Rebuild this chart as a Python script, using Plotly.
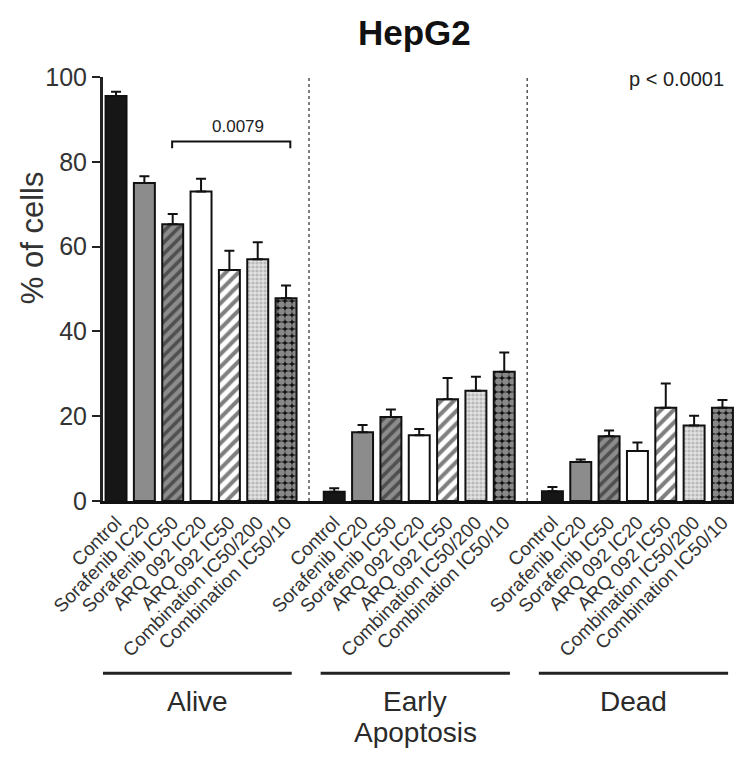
import plotly.graph_objects as go

groups = ["Alive", "Early", "Dead"]
treatments = ["Control", "Sorafenib IC20", "Sorafenib IC50", "ARQ 092 IC20",
              "ARQ 092 IC50", "Combination IC50/200", "Combination IC50/10"]

# mean % of cells (one list per group, same order as treatments)
alive = [95.5, 75.0, 65.3, 73.0, 54.5, 57.0, 47.8]
alive_err = [1.0, 1.6, 2.4, 3.0, 4.5, 4.0, 3.0]
early = [2.2, 16.2, 19.8, 15.5, 24.0, 26.0, 30.5]
early_err = [0.8, 1.7, 1.8, 1.5, 5.0, 3.3, 4.5]
dead = [2.3, 9.2, 15.3, 11.8, 22.0, 17.8, 22.0]
dead_err = [1.0, 0.6, 1.3, 2.0, 5.7, 2.3, 1.8]

bracket_p = "0.0079"
overall_p = "p < 0.0001"

# fill colour, hatch shape, hatch colour, hatch size, solidity
styles = [
    ("#161616", "", "#161616", 8, 0.3),
    ("#8c8c8c", "", "#8c8c8c", 8, 0.3),
    ("#8c8c8c", "/", "#111111", 8, 0.45),
    ("#ffffff", "", "#ffffff", 8, 0.3),
    ("#ffffff", "/", "#000000", 9, 0.45),
    ("#e2e2e2", ".", "#8f8f8f", 4, 0.5),
    ("#111111", ".", "#ffffff", 7, 0.7),
]

GROUP_STEP = 7.7  # spacing between group starts, in bar units
values = [alive, early, dead]
errors = [alive_err, early_err, dead_err]

fig = go.Figure()
for i, name in enumerate(treatments):
    color, shape, fg, size, solid = styles[i]
    xs = [g * GROUP_STEP + i for g in range(len(groups))]
    ys = [values[g][i] for g in range(len(groups))]
    es = [errors[g][i] for g in range(len(groups))]
    fig.add_trace(go.Bar(
        x=xs, y=ys, name=name, width=0.74,
        marker=dict(color=color, line=dict(color="#111111", width=2),
                    pattern=dict(shape=shape, fgcolor=fg, size=size,
                                 solidity=solid, fillmode="overlay")),
        error_y=dict(type="data", array=es, arrayminus=[0] * len(es),
                     symmetric=False, color="#111111", thickness=2, width=5),
    ))

tickvals = [g * GROUP_STEP + i for g in range(len(groups)) for i in range(len(treatments))]
ticktext = treatments * len(groups)

fig.update_xaxes(range=[-0.46, 22.09], tickvals=tickvals, ticktext=ticktext,
                 tickangle=-45, tickfont=dict(family="Arial, Liberation Sans", size=19, color="#333333"),
                 showline=True, linecolor="#111111", linewidth=3, ticks="",
                 showgrid=False, zeroline=False)
fig.update_yaxes(range=[0, 100], dtick=20, ticks="outside", ticklen=8, tickwidth=2,
                 tickcolor="#222222", showline=True, linecolor="#222222", linewidth=3,
                 tickfont=dict(family="Arial, Liberation Sans", size=25, color="#333333"),
                 showgrid=False, zeroline=False)

shapes = []
# dotted separators between groups
for sx in [6.81, 6.81 + GROUP_STEP]:
    shapes.append(dict(type="line", xref="x", yref="y", x0=sx, x1=sx, y0=0, y1=100,
                       line=dict(color="#555555", width=1.5, dash="dot")))
# significance bracket
shapes.append(dict(type="path", xref="x", yref="y",
                   path="M 1.98 83.2 L 1.98 84.8 L 6.15 84.8 L 6.15 83.2",
                   line=dict(color="#111111", width=2)))
# group underlines
for g in range(len(groups)):
    c = g * GROUP_STEP + 2.86
    shapes.append(dict(type="line", xref="x", yref="paper", x0=c - 3.34, x1=c + 3.34,
                       y0=-0.406, y1=-0.406, line=dict(color="#222222", width=3)))

font_txt = dict(family="Arial, Liberation Sans", size=28, color="#2a2a2a")
mid = dict(showarrow=False, xanchor="center", yanchor="middle")
annotations = [
    dict(text="<b>HepG2</b>", xref="paper", yref="paper", x=0.488, y=1.104,
         font=dict(family="Arial, Liberation Sans", size=35, color="#111111"), **mid),
    dict(text="% of cells", xref="paper", yref="paper", x=-0.111, y=0.62, textangle=-90,
         font=dict(family="Arial, Liberation Sans", size=31, color="#333333"), **mid),
    dict(text=overall_p, xref="paper", yref="paper", x=0.898, y=0.995,
         font=dict(family="Arial, Liberation Sans", size=20, color="#222222"), **mid),
    dict(text=bracket_p, xref="x", yref="y", x=4.3, y=88.3,
         font=dict(family="Arial, Liberation Sans", size=17, color="#222222"), **mid),
    dict(text="Alive", xref="x", yref="paper", x=2.86, y=-0.472, font=font_txt, **mid),
    dict(text="Early", xref="x", yref="paper", x=2.86 + GROUP_STEP, y=-0.472, font=font_txt, **mid),
    dict(text="Apoptosis", xref="x", yref="paper", x=2.86 + GROUP_STEP, y=-0.547, font=font_txt, **mid),
    dict(text="Dead", xref="x", yref="paper", x=2.86 + 2 * GROUP_STEP, y=-0.472, font=font_txt, **mid),
]

# page body has an 8px offset, so the plot box is shifted up/left by 8px
fig.update_layout(width=742, height=758, margin=dict(l=95, r=8, t=69, b=265),
                  plot_bgcolor="white", paper_bgcolor="white", showlegend=False,
                  shapes=shapes, annotations=annotations)

fig.write_html("out.html")
